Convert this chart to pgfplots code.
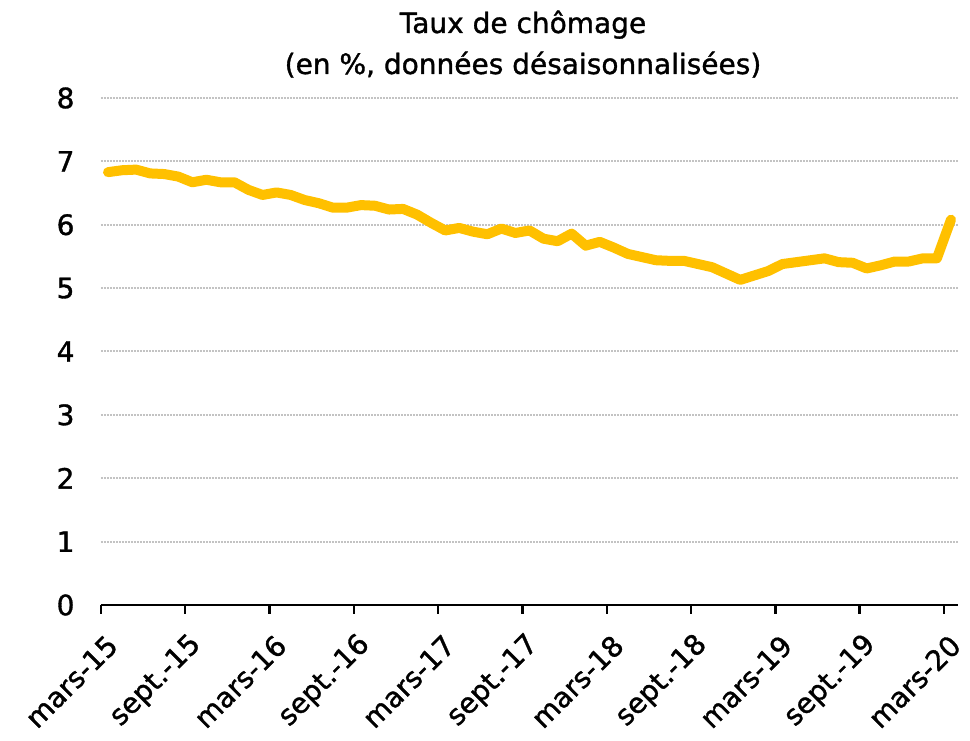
\documentclass[border=0pt]{standalone}
\usepackage{fontspec}
\setmainfont{DejaVu Sans}[FakeBold=1.2]
\usepackage{pgfplots}
\pgfplotsset{compat=1.18}
\definecolor{gold}{RGB}{255,192,0}
\definecolor{gridgray}{RGB}{195,195,195}
\begin{document}
\begin{tikzpicture}
\useasboundingbox (-101pt,-136pt) rectangle (869pt,605pt);
\begin{axis}[
  at={(0pt,0pt)}, anchor=south west,
  scale only axis, width=857pt, height=507pt,
  xmin=-0.5, xmax=60.5, ymin=0, ymax=8,
  axis x line*=bottom, axis y line*=left,
  y axis line style={draw=none},
  x axis line style={black, line width=2.4pt},
  xtick={-0.5,5.5,11.5,17.5,23.5,29.5,35.5,41.5,47.5,53.5,59.5},
  xticklabels={mars-15,sept.-15,mars-16,sept.-16,mars-17,sept.-17,mars-18,sept.-18,mars-19,sept.-19,mars-20},
  xtick align=outside,
  xtick style={black, line width=2.4pt},
  major tick length=9pt,
  ytick={0,1,...,8},
  ytick style={draw=none},
  ymajorgrids,
  grid style={gridgray, line width=2pt, densely dotted},
  /pgf/number format/assume math mode=true,
  tick label style={font=\fontsize{28}{32}\selectfont},
  xticklabel style={xshift=14pt, yshift=-24pt, rotate=45, anchor=east},
  yticklabel style={xshift=-23pt},
  clip=false,
]
\addplot[gold, line width=10pt, line join=round, line cap=round] coordinates {
(0,6.83) (1,6.86) (2,6.87) (3,6.81) (4,6.80) (5,6.76) (6,6.67) (7,6.71) (8,6.67) (9,6.67)
(10,6.55) (11,6.47) (12,6.51) (13,6.47) (14,6.39) (15,6.34) (16,6.27) (17,6.27) (18,6.31) (19,6.30)
(20,6.24) (21,6.25) (22,6.16) (23,6.03) (24,5.91) (25,5.95) (26,5.89) (27,5.85) (28,5.94) (29,5.87)
(30,5.91) (31,5.78) (32,5.74) (33,5.86) (34,5.67) (35,5.73) (36,5.64) (37,5.54) (38,5.49) (39,5.44)
(40,5.43) (41,5.43) (42,5.38) (43,5.33) (44,5.23) (45,5.13) (46,5.20) (47,5.27) (48,5.38) (49,5.41)
(50,5.44) (51,5.47) (52,5.41) (53,5.40) (54,5.31) (55,5.36) (56,5.42) (57,5.42) (58,5.47) (59,5.47)
(60,6.08)
};
\end{axis}
\node[anchor=base, font=\fontsize{28}{34}\selectfont] at (422pt,572pt) {Taux de chômage};
\node[anchor=base, font=\fontsize{28}{34}\selectfont] at (422pt,531pt) {(en \%, données désaisonnalisées)};
\end{tikzpicture}
\end{document}
